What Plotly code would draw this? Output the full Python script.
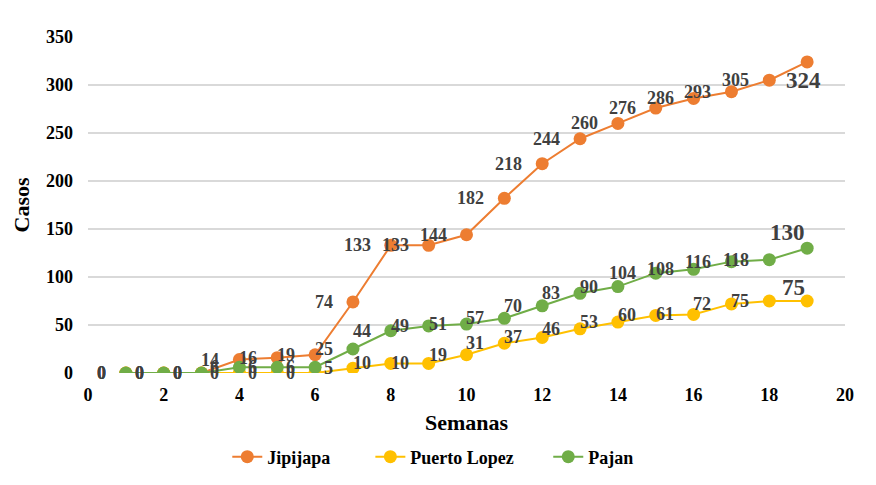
import plotly.graph_objects as go

semanas = list(range(1, 20))
jipijapa = [0, 0, 0, 14, 16, 19, 74, 133, 133, 144, 182, 218, 244, 260, 276, 286, 293, 305, 324]
puerto_lopez = [0, 0, 0, 0, 0, 0, 5, 10, 10, 19, 31, 37, 46, 53, 60, 61, 72, 75, 75]
pajan = [0, 0, 0, 6, 6, 6, 25, 44, 49, 51, 57, 70, 83, 90, 104, 108, 116, 118, 130]

x_ticks = list(range(0, 21, 2))
y_ticks = list(range(0, 351, 50))

FONT = "Liberation Serif"
LABEL_COLOR = "#404040"

# name, values, colour, (xshift, yshift) for the bigger last label, legend x
series = [
    ("Jipijapa", jipijapa, "#ED7D31", (-4, -19), 0.184),
    ("Puerto Lopez", puerto_lopez, "#FFC000", (-14, 14), 0.373),
    ("Pajan", pajan, "#70AD47", (-20, 16), 0.608),
]

fig = go.Figure()
annotations = []
legends = {}

for i, (name, values, color, last_shift, leg_x) in enumerate(series):
    leg_id = "legend" if i == 0 else f"legend{i + 1}"
    fig.add_trace(go.Scatter(
        x=semanas,
        y=values,
        mode="lines+markers",
        name=name,
        legend=leg_id,
        line=dict(color=color, width=2),
        marker=dict(color=color, size=13),
    ))
    legends[leg_id] = dict(
        orientation="h", x=leg_x, xanchor="left", y=-0.25, yanchor="middle",
        font=dict(family=FONT, size=18, color="black", weight="bold"),
        bgcolor="rgba(0,0,0,0)",
    )
    # data labels sit to the left of each point, like in the excel chart
    for wk, v in zip(semanas[:-1], values[:-1]):
        annotations.append(dict(
            x=wk, y=v, xref="x", yref="y", text=str(v), showarrow=False,
            xanchor="right", yanchor="middle", xshift=-18,
            font=dict(family=FONT, size=18, color=LABEL_COLOR, weight="bold"),
        ))
    annotations.append(dict(
        x=semanas[-1], y=values[-1], xref="x", yref="y", text=str(values[-1]),
        showarrow=False, xanchor="center", yanchor="middle",
        xshift=last_shift[0], yshift=last_shift[1],
        font=dict(family=FONT, size=23, color=LABEL_COLOR, weight="bold"),
    ))

# page body adds 8px around the figure, so the size is trimmed to fit the window
fig.update_layout(
    width=860,
    height=469,
    margin=dict(l=80, r=23, t=29, b=104, autoexpand=False),
    plot_bgcolor="white",
    paper_bgcolor="white",
    font=dict(family=FONT, size=18, color="black", weight="bold"),
    annotations=annotations,
    showlegend=True,
    xaxis=dict(
        range=[0, 20], tickvals=x_ticks, showgrid=False, zeroline=False,
        showline=False, ticks="", ticklabelstandoff=9, automargin=False,
        title=dict(text="Semanas", font=dict(family=FONT, size=22, weight="bold"), standoff=10),
        tickfont=dict(family=FONT, size=18, weight="bold"),
    ),
    yaxis=dict(
        range=[0, 350], tickvals=y_ticks, showgrid=True, gridcolor="#D9D9D9",
        gridwidth=1.5, zeroline=False, showline=False, ticks="", ticklabelstandoff=14,
        automargin=False,
        title=dict(text="Casos", font=dict(family=FONT, size=22, weight="bold"), standoff=10),
        tickfont=dict(family=FONT, size=18, weight="bold"),
    ),
    **legends,
)

fig.write_html("out.html")
